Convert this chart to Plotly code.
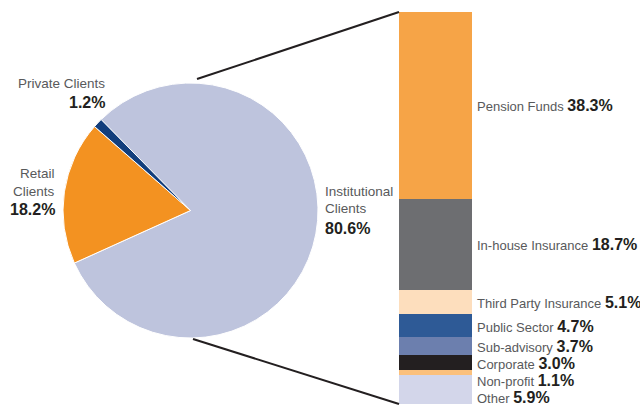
import plotly.graph_objects as go

W, H = 640, 405

# ---- data ----
pie_labels = ["Institutional Clients", "Retail Clients", "Private Clients"]
pie_values = [80.6, 18.2, 1.2]
pie_colors = ["#BEC4DD", "#F39221", "#123E7C"]

bar_labels = ["Pension Funds", "In-house Insurance", "Third Party Insurance", "Public Sector",
              "Sub-advisory", "Corporate", "Non-profit", "Other"]
bar_values = [38.3, 18.7, 5.1, 4.7, 3.7, 3.0, 1.1, 5.9]
bar_colors = ["#F6A447", "#6D6E71", "#FDDEBD", "#2E5A96", "#6C7FAE", "#231F20", "#FBC07C", "#D3D6EA"]

FONT = "Liberation Sans, Arial, sans-serif"
GREY = "#58595B"
DARK = "#231F20"


def px(x):
    return x / W


def py(y):
    return 1 - y / H


fig = go.Figure()

# pie
fig.add_trace(go.Pie(
    labels=pie_labels, values=pie_values, sort=False, direction="clockwise",
    rotation=315.5, textinfo="none", hoverinfo="label+value",
    marker=dict(colors=pie_colors, line=dict(color="white", width=1)),
    domain=dict(x=[px(63), px(318)], y=[py(338), py(83)]),
    showlegend=False,
))

# stacked bar (drawn bottom-up so first category is on top)
for lab, val, col in reversed(list(zip(bar_labels, bar_values, bar_colors))):
    fig.add_trace(go.Bar(
        x=[0], y=[val], name=lab, marker=dict(color=col, line=dict(width=0)),
        width=1, showlegend=False,
    ))

total = sum(bar_values)
bar_top, bar_bot = 12, 404

fig.update_layout(
    width=W, height=H, margin=dict(l=0, r=0, t=0, b=0),
    paper_bgcolor="white", plot_bgcolor="white",
    barmode="stack", bargap=0,
    xaxis=dict(domain=[px(399), px(472)], range=[-0.5, 0.5], visible=False, fixedrange=True),
    yaxis=dict(domain=[py(bar_bot), py(bar_top)], range=[0, total], visible=False, fixedrange=True),
    font=dict(family=FONT),
)

# bar labels: placed at segment centres, pushed down to avoid overlap
pix_per_unit = (bar_bot - bar_top) / total
annotations = []
cum = 0
prev = -1e9
for lab, val in zip(bar_labels, bar_values):
    centre = bar_top + (cum + val / 2) * pix_per_unit + 0.5
    ylab = max(centre, prev + 16.8)
    prev = ylab
    cum += val
    annotations.append(dict(
        x=px(475), y=py(ylab), xref="paper", yref="paper", xanchor="left", yanchor="middle",
        showarrow=False,
        text=f"<span style='color:{GREY}'>{lab}</span> <b><span style='font-size:16px'>{val:.1f}%</span></b>",
        font=dict(family=FONT, size=13, color=DARK),
    ))

# pie labels
def add_lbl(lines, x, ys, anchor):
    for (txt, bold), y in zip(lines, ys):
        annotations.append(dict(
            x=px(x), y=py(y), xref="paper", yref="paper", xanchor=anchor, yanchor="middle",
            showarrow=False,
            text=f"<b>{txt}</b>" if bold else txt,
            font=dict(family=FONT, size=16 if bold else 13.5, color=DARK if bold else GREY),
        ))

add_lbl([("Private Clients", False), (f"{pie_values[2]:.1f}%", True)], 107, [83, 102.5], "right")
add_lbl([("Retail", False), ("Clients", False), (f"{pie_values[1]:.1f}%", True)], 57, [174, 191, 209.5], "right")
add_lbl([("Institutional", False), ("Clients", False), (f"{pie_values[0]:.1f}%", True)], 323, [191.5, 208.5, 228.5], "left")

fig.update_layout(annotations=annotations)

# connector lines from pie to bar
fig.add_shape(type="line", xref="paper", yref="paper", x0=px(197), y0=py(79), x1=px(399), y1=py(bar_top),
              line=dict(color=DARK, width=2))
fig.add_shape(type="line", xref="paper", yref="paper", x0=px(193), y0=py(339), x1=px(399), y1=py(bar_bot),
              line=dict(color=DARK, width=2))

fig.write_html("out.html", config={"displayModeBar": False},
               post_script="document.body.style.margin='0';document.body.style.overflow='hidden';")
